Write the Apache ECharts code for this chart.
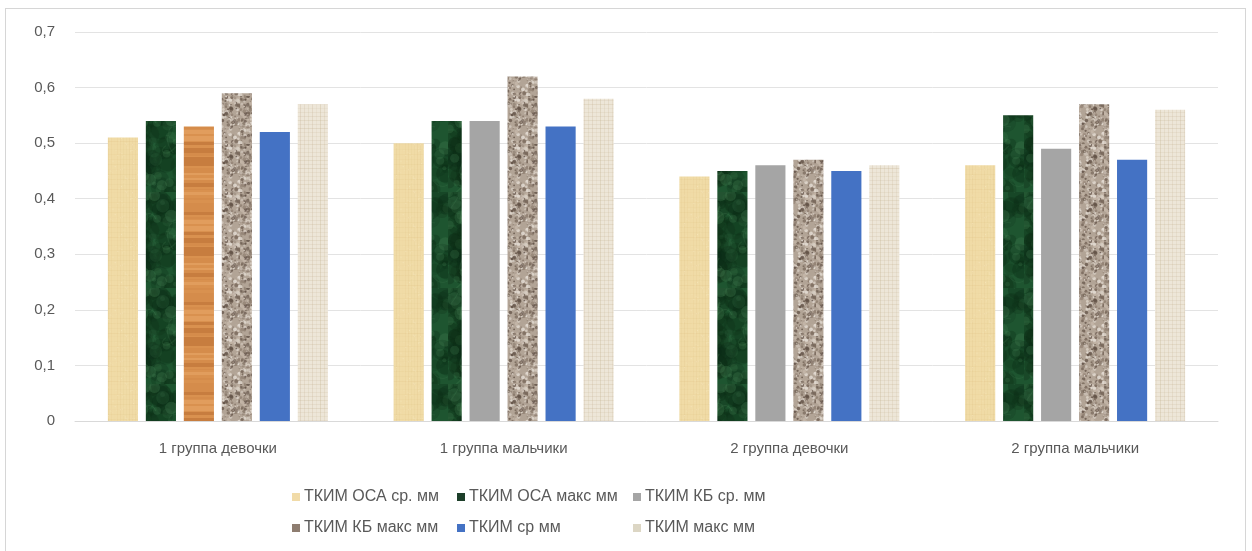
<!DOCTYPE html>
<html>
<head>
<meta charset="utf-8">
<script src="https://cdn.jsdelivr.net/npm/echarts@6/dist/echarts.min.js"></script>
<style>
  html, body { margin: 0; padding: 0; background: #ffffff; }
  #frame { position: absolute; left: 5px; top: 8px; width: 1241px; height: 600px;
           border: 1px solid #d6d6d6; border-bottom: none; box-sizing: border-box; }
  #chart { position: absolute; left: 0; top: 0; width: 1252px; height: 551px; }
</style>
</head>
<body>
<div id="frame"></div>
<div id="chart"></div>
<script>
// Groups along the x axis
const categories = ['1 группа девочки', '1 группа мальчики', '2 группа девочки', '2 группа мальчики'];
// Series names (legend order)
const seriesNames = ['ТКИМ ОСА ср. мм', 'ТКИМ ОСА макс мм', 'ТКИМ КБ ср. мм', 'ТКИМ КБ макс мм', 'ТКИМ ср мм', 'ТКИМ макс мм'];
// Values per series, one per group
const osaAvg = [0.51, 0.50, 0.44, 0.46];
const osaMax = [0.54, 0.54, 0.45, 0.55];
const kbAvg  = [0.53, 0.54, 0.46, 0.49];
const kbMax  = [0.59, 0.62, 0.47, 0.57];
const avg    = [0.52, 0.53, 0.45, 0.47];
const max    = [0.57, 0.58, 0.46, 0.56];
// Y axis ticks
const yMin = 0, yMax = 0.7, yStep = 0.1;

// --- fill textures ---
function rng(seed) {
  return function () {
    seed |= 0; seed = seed + 0x6D2B79F5 | 0;
    let t = Math.imul(seed ^ seed >>> 15, 1 | seed);
    t = t + Math.imul(t ^ t >>> 7, 61 | t) ^ t;
    return ((t ^ t >>> 14) >>> 0) / 4294967296;
  };
}
function tex(w, h, base, seed, draw) {
  const c = document.createElement('canvas');
  c.width = w; c.height = h;
  const g = c.getContext('2d');
  g.fillStyle = base; g.fillRect(0, 0, w, h);
  draw(g, w, h, rng(seed));
  return { image: c, repeat: 'repeat' };
}
const papyrus = tex(48, 48, '#f0dba6', 11, (g, w, h, r) => {
  for (let x = 0; x < w; x += 3) { g.fillStyle = 'rgba(205,165,95,' + (r() * 0.12) + ')'; g.fillRect(x, 0, 1, h); }
  for (let y = 0; y < h; y += 5) { g.fillStyle = 'rgba(210,170,100,' + (r() * 0.14) + ')'; g.fillRect(0, y, w, 1); }
  for (let i = 0; i < 120; i++) { g.fillStyle = 'rgba(255,245,215,' + (r() * 0.4) + ')'; g.fillRect(r() * w, r() * h, 1, 1); }
});
const marble = tex(64, 96, '#1e5530', 23, (g, w, h, r) => {
  for (let i = 0; i < 90; i++) {
    g.fillStyle = 'rgba(12,45,22,' + (0.15 + r() * 0.25) + ')';
    g.beginPath(); g.arc(r() * w, r() * h, 3 + r() * 9, 0, Math.PI * 2); g.fill();
  }
  for (let i = 0; i < 40; i++) {
    g.fillStyle = 'rgba(70,130,85,' + (0.1 + r() * 0.2) + ')';
    g.beginPath(); g.arc(r() * w, r() * h, 2 + r() * 5, 0, Math.PI * 2); g.fill();
  }
  for (let i = 0; i < 10; i++) {
    g.strokeStyle = 'rgba(110,170,120,' + (0.1 + r() * 0.15) + ')';
    g.lineWidth = 0.8 + r();
    g.beginPath();
    const x0 = r() * w, y0 = r() * h;
    g.moveTo(x0, y0);
    g.bezierCurveTo(x0 + r() * 20 - 10, y0 + r() * 20 - 10, x0 + r() * 30 - 15, y0 + r() * 30 - 15, x0 + r() * 30 - 15, y0 + r() * 30 - 15);
    g.stroke();
  }
});
const wood = tex(32, 90, '#d9914f', 37, (g, w, h, r) => {
  let y = 0;
  while (y < h) {
    const bh = 1 + Math.floor(r() * 5);
    const t = r();
    g.fillStyle = t < 0.3 ? 'rgba(165,90,35,0.35)' : (t < 0.6 ? 'rgba(240,180,120,0.35)' : 'rgba(200,120,60,0.2)');
    g.fillRect(0, y, w, bh);
    y += bh + Math.floor(r() * 4);
  }
});
const granite = tex(48, 48, '#b2a496', 51, (g, w, h, r) => {
  const cols = ['#7a6a5d', '#928274', '#d6ccc1', '#65554a', '#c4b6a8', '#e4ddd4'];
  for (let i = 0; i < 420; i++) {
    g.fillStyle = cols[Math.floor(r() * cols.length)];
    g.globalAlpha = 0.55 + r() * 0.4;
    g.beginPath(); g.arc(r() * w, r() * h, 0.5 + r() * 1.5, 0, Math.PI * 2); g.fill();
  }
  g.globalAlpha = 1;
});
const linen = tex(40, 40, '#ede6d8', 67, (g, w, h, r) => {
  for (let x = 0; x < w; x += 4) { g.fillStyle = 'rgba(190,170,135,' + (0.08 + r() * 0.2) + ')'; g.fillRect(x, 0, 1, h); }
  for (let y = 0; y < h; y += 4) { g.fillStyle = 'rgba(190,170,135,' + (0.08 + r() * 0.2) + ')'; g.fillRect(0, y, w, 1); }
});

const fills = [papyrus, marble, '#a5a5a5', granite, '#4472c4', linen];
const legendColors = ['#f1dba8', '#1d3f2a', '#a5a5a5', '#8e7d70', '#4472c4', '#dcd6c4'];
const values = [osaAvg, osaMax, kbAvg, kbMax, avg, max];

const font = '"Liberation Sans", Arial, sans-serif';
const chart = echarts.init(document.getElementById('chart'), null, { renderer: 'canvas' });

const series = seriesNames.map((name, i) => ({
  name, type: 'bar',
  barCategoryGap: '23%', barGap: '26%',
  itemStyle: { color: fills[i] },
  data: values[i].map((v, j) => (i === 2 && j === 0) ? { value: v, itemStyle: { color: wood } } : v)
}));

function legendCol(left, names) {
  return {
    orient: 'vertical', left, top: 484, icon: 'rect', itemWidth: 8, itemHeight: 8, itemGap: 15,
    selectedMode: false,
    textStyle: { color: '#595959', fontSize: 16, fontFamily: font, padding: [0, 0, 0, -1] },
    data: names.map(n => ({ name: n, itemStyle: { color: legendColors[seriesNames.indexOf(n)] } }))
  };
}

chart.setOption({
  animation: false,
  grid: { left: 75, right: 34, top: 32, bottom: 130 },
  legend: [
    legendCol(287, [seriesNames[0], seriesNames[3]]),
    legendCol(452, [seriesNames[1], seriesNames[4]]),
    legendCol(628, [seriesNames[2], seriesNames[5]])
  ],
  xAxis: {
    type: 'category', data: categories,
    axisLine: { lineStyle: { color: '#d9d9d9' } },
    axisTick: { show: false },
    axisLabel: { color: '#595959', fontSize: 15, fontFamily: font, margin: 20 }
  },
  yAxis: {
    type: 'value', min: yMin, max: yMax, interval: yStep,
    axisLine: { show: false }, axisTick: { show: false },
    splitLine: { lineStyle: { color: '#e3e3e3' } },
    axisLabel: { color: '#595959', fontSize: 15, fontFamily: font, margin: 20,
                 formatter: v => v === 0 ? '0' : v.toFixed(1).replace('.', ',') }
  },
  series
});
</script>
</body>
</html>
